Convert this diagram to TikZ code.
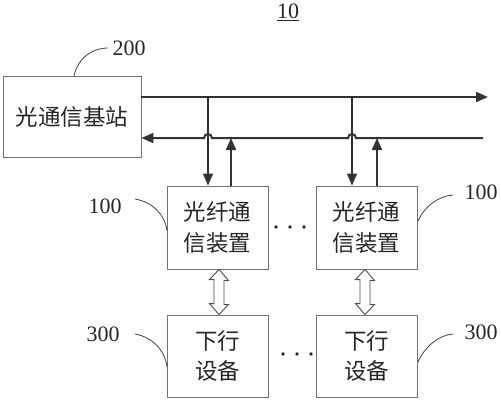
\documentclass[tikz,border=0pt]{standalone}
\usepackage{fontspec}
\setmainfont{Liberation Serif}
\newfontfamily\cjk{Noto Sans CJK SC}
\usetikzlibrary{arrows.meta,calc}
\tikzset{
  box/.style={draw=black!55, line width=0.9pt, inner sep=0pt, font=\cjk\fontsize{22.5}{30.5}\selectfont, align=center, text=black!85},
  trunk/.style={draw=black!80, line width=2pt},
  branch/.style={draw=black!80, line width=1.5pt},
  tip/.style={-{Triangle[length=12pt,width=10pt]}},
  leader/.style={draw=black!75, line width=0.8pt},
  num/.style={font=\fontsize{22}{24}\selectfont, text=black!85, inner sep=0pt},
  hollow/.style={draw=black!70, line width=0.9pt, fill=white},
  dotc/.style={fill=black!85, draw=none}
}
\begin{document}
\begin{tikzpicture}[x=1pt,y=-1pt]
\useasboundingbox (0,0) rectangle (501,400);
% title
\node[num] (title) at (288,12) {\underline{10}};
% boxes
\node[box, minimum width=138pt, minimum height=81pt] (bs) at (72,116.5) {光通信基站};
\node[box, minimum width=101pt, minimum height=83pt] (fa) at (217.5,227.5) {光纤通\\信装置};
\node[box, minimum width=101pt, minimum height=83pt] (fb) at (366.5,227.5) {光纤通\\信装置};
\node[box, minimum width=101pt, minimum height=82pt] (da) at (217.5,356) {下行\\设备};
\node[box, minimum width=101pt, minimum height=82pt] (db) at (366.5,356) {下行\\设备};
% labels
\node[num] (l200) at (129,48) {200};
\node[num] (l100a) at (105,206) {100};
\node[num] (l100b) at (481,192) {100};
\node[num] (l300a) at (103,334) {300};
\node[num] (l300b) at (481,332) {300};
% leaders
\coordinate (c200) at (108,48);
\coordinate (c100a) at (135,199);
\coordinate (c100b) at (453,195);
\coordinate (c300a) at (135,334);
\coordinate (c300b) at (453,334);
\draw[leader] (74,76) .. controls (78,58) and (92,48) .. (c200);
\draw[leader] (c100a) .. controls (152,202) and (165,214) .. (167,231);
\draw[leader] (418,221) .. controls (424,207) and (438,196) .. (c100b);
\draw[leader] (c300a) .. controls (152,337) and (165,350) .. (167,367);
\draw[leader] (418,362) .. controls (424,348) and (438,335) .. (c300b);
% trunk lines
\coordinate (topR) at (488,97);
\coordinate (botR) at (483,138);
\draw[trunk, tip] (bs.east |- topR) -- (topR);
\draw[trunk, tip] (botR) -- (356,138) arc[start angle=0, end angle=180, radius=4pt]
  -- (212,138) arc[start angle=0, end angle=180, radius=4pt] -- (bs.east |- botR);
% branches
\coordinate (dnA) at (208,97);
\coordinate (upA) at (231,138);
\coordinate (dnB) at (352,97);
\coordinate (upB) at (377,138);
\draw[branch, tip] (dnA) -- (dnA |- fa.north);
\draw[branch, tip] (upA |- fa.north) -- (upA);
\draw[branch, tip] (dnB) -- (dnB |- fb.north);
\draw[branch, tip] (upB |- fb.north) -- (upB);
% hollow double arrows
\draw[hollow] ($(fa.south)+(1.5,0)$) -- ++(9.5,11) -- ++(-4.5,0) -- ++(0,24) -- ++(4.5,0)
  -- ($(da.north)+(1.5,0)$) -- ++(-9.5,-11) -- ++(4.5,0) -- ++(0,-24) -- ++(-4.5,0) -- cycle;
\draw[hollow] ($(fb.south)+(-1.5,0)$) -- ++(9.5,11) -- ++(-4.5,0) -- ++(0,24) -- ++(4.5,0)
  -- ($(db.north)+(-1.5,0)$) -- ++(-9.5,-11) -- ++(4.5,0) -- ++(0,-24) -- ++(-4.5,0) -- cycle;
% dots
\foreach \x in {276,290,304} \fill[dotc] (\x,227) circle[radius=1.8pt];
\foreach \x in {283,297,311} \fill[dotc] (\x,354) circle[radius=1.8pt];
\end{tikzpicture}
\end{document}
